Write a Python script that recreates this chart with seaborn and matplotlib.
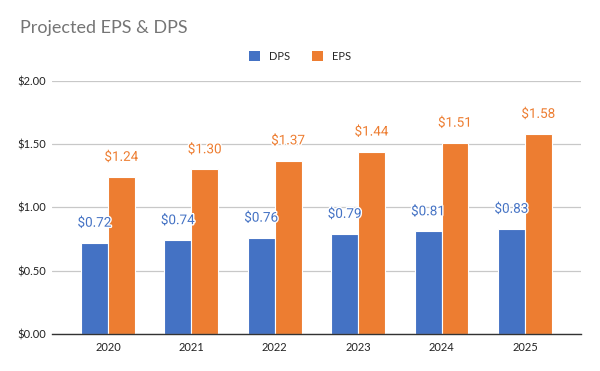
import matplotlib
matplotlib.use("Agg")
import matplotlib.pyplot as plt
import matplotlib.patheffects as pe
import seaborn as sns
import pandas as pd
from matplotlib.ticker import FuncFormatter
from matplotlib.patches import Patch

years = ["2020", "2021", "2022", "2023", "2024", "2025"]
dps = [0.72, 0.74, 0.76, 0.79, 0.81, 0.83]
eps = [1.24, 1.30, 1.37, 1.44, 1.51, 1.58]
series = ["DPS", "EPS"]
colors = ["#4472C4", "#ED7D31"]

df = pd.DataFrame({
    "Year": years * 2,
    "Value": dps + eps,
    "Series": ["DPS"] * len(years) + ["EPS"] * len(years),
})

sns.set_theme(style="white")
plt.rcParams["font.family"] = ["Lato", "DejaVu Sans"]

fig = plt.figure(figsize=(6, 3.71), dpi=100)
ax = fig.add_axes([0.0867, 0.0997, 0.968 - 0.0867, 0.782 - 0.0997])

sns.barplot(data=df, x="Year", y="Value", hue="Series", hue_order=series,
            palette=colors, width=0.645, ax=ax, edgecolor="white", linewidth=0.8,
            saturation=1, legend=False, errorbar=None)

for cont, col in zip(ax.containers, colors):
    labels = [f"${v:.2f}" for v in cont.datavalues]
    texts = ax.bar_label(cont, labels=labels, padding=9.5, color=col, fontsize=9.7,
                         family="Roboto")
    for t in texts:
        t.set_path_effects([pe.withStroke(linewidth=2, foreground="white")])

ax.set_ylim(0, 2.0)
ax.set_xlim(-0.67, 5.67)
ax.set_yticks([0, 0.5, 1.0, 1.5, 2.0])
ax.yaxis.set_major_formatter(FuncFormatter(lambda v, p: f"${v:.2f}"))
ax.grid(axis="y", color="#C8C8C8", linewidth=0.9)
ax.set_axisbelow(True)
for s in ["top", "right", "left"]:
    ax.spines[s].set_visible(False)
ax.spines["bottom"].set_color("#333333")
ax.spines["bottom"].set_linewidth(1.0)
ax.tick_params(axis="both", length=0, labelsize=8, colors="#222222", pad=4)
ax.tick_params(axis="x", pad=6)
ax.set_xlabel("")
ax.set_ylabel("")

fig.text(0.033, 0.91, "Projected EPS & DPS", fontsize=13, color="#757575",
         family=["Lato", "DejaVu Sans"])

handles = [Patch(facecolor=c, edgecolor="none") for c in colors]
fig.legend(handles, series, loc="center", bbox_to_anchor=(0.5, 0.848), ncol=2,
           frameon=False, fontsize=8, handlelength=1.0, handleheight=1.0,
           columnspacing=2.0, handletextpad=0.8)

fig.savefig("out.png", dpi=100)
